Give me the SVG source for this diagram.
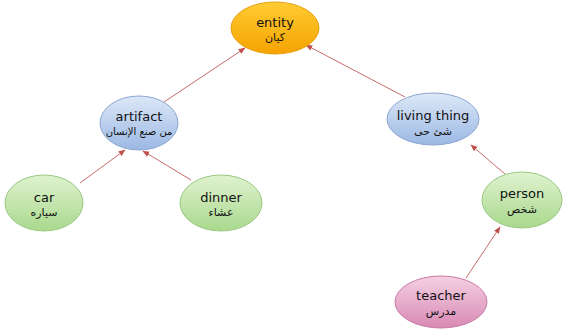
<svg xmlns="http://www.w3.org/2000/svg" width="564" height="331" viewBox="0 0 564 331">
<style>
.en{font-family:"DejaVu Sans",Tahoma,sans-serif;font-size:13px;fill:#111111;text-anchor:middle}
.ar{font-family:"DejaVu Sans",sans-serif;font-size:11px;fill:#111111;text-anchor:middle}
.edge{stroke:#c86a6a;stroke-width:1;fill:none;marker-end:url(#arr)}
</style>
<defs>
<marker id="arr" viewBox="0 0 10 10" refX="9" refY="5" markerWidth="7" markerHeight="7" orient="auto-start-reverse" markerUnits="userSpaceOnUse">
<path d="M0,1 L10,5 L0,9 z" fill="#c0504d"/>
</marker>
<linearGradient id="gO" x1="0" y1="0" x2="0" y2="1"><stop offset="0" stop-color="#ffcc33"/><stop offset="1" stop-color="#f5a300"/></linearGradient>
<linearGradient id="gB" x1="0" y1="0" x2="0" y2="1"><stop offset="0" stop-color="#dde8f7"/><stop offset="1" stop-color="#9bb8e4"/></linearGradient>
<linearGradient id="gG" x1="0" y1="0" x2="0" y2="1"><stop offset="0" stop-color="#dff2cf"/><stop offset="1" stop-color="#a9d98d"/></linearGradient>
<linearGradient id="gP" x1="0" y1="0" x2="0" y2="1"><stop offset="0" stop-color="#f5d0e3"/><stop offset="1" stop-color="#d889b4"/></linearGradient>
</defs>
<rect width="564" height="331" fill="#ffffff"/>
<g id="connectors">
<line class="edge" x1="164" y1="102" x2="245" y2="48"/>
<line class="edge" x1="405" y1="97" x2="306" y2="45"/>
<line class="edge" x1="80" y1="183" x2="125" y2="150"/>
<line class="edge" x1="191" y1="180" x2="143" y2="151"/>
<line class="edge" x1="505" y1="174" x2="471" y2="145"/>
<line class="edge" x1="466" y1="278" x2="500" y2="227"/>
</g>
<g id="entity">
<ellipse cx="275" cy="28" rx="44" ry="26" fill="url(#gO)" stroke="#e5a010" stroke-width="1"/>
<text class="en" x="275" y="27">entity</text>
<text class="ar" x="275" y="41">كيان</text>
</g>
<g id="artifact">
<ellipse cx="139" cy="123" rx="39" ry="27" fill="url(#gB)" stroke="#8aa6d0" stroke-width="1"/>
<text class="en" x="139" y="121">artifact</text>
<text class="ar" x="139" y="135" style="font-size:10px">من صنع الإنسان</text>
</g>
<g id="living-thing">
<ellipse cx="433" cy="119" rx="46" ry="26" fill="url(#gB)" stroke="#8aa6d0" stroke-width="1"/>
<text class="en" x="433" y="120">living thing</text>
<text class="ar" x="433" y="135">شئ حى</text>
</g>
<g id="car">
<ellipse cx="44" cy="203" rx="39" ry="28" fill="url(#gG)" stroke="#98c880" stroke-width="1"/>
<text class="en" x="44" y="202">car</text>
<text class="ar" x="44" y="216">سياره</text>
</g>
<g id="dinner">
<ellipse cx="221" cy="203" rx="41" ry="28" fill="url(#gG)" stroke="#98c880" stroke-width="1"/>
<text class="en" x="221" y="202">dinner</text>
<text class="ar" x="221" y="216">عشاء</text>
</g>
<g id="person">
<ellipse cx="522" cy="200" rx="40" ry="28" fill="url(#gG)" stroke="#98c880" stroke-width="1"/>
<text class="en" x="522" y="198">person</text>
<text class="ar" x="522" y="213">شخص</text>
</g>
<g id="teacher">
<ellipse cx="441" cy="302" rx="46" ry="26" fill="url(#gP)" stroke="#c87aa5" stroke-width="1"/>
<text class="en" x="441" y="300">teacher</text>
<text class="ar" x="441" y="315">مدرس</text>
</g>
</svg>
